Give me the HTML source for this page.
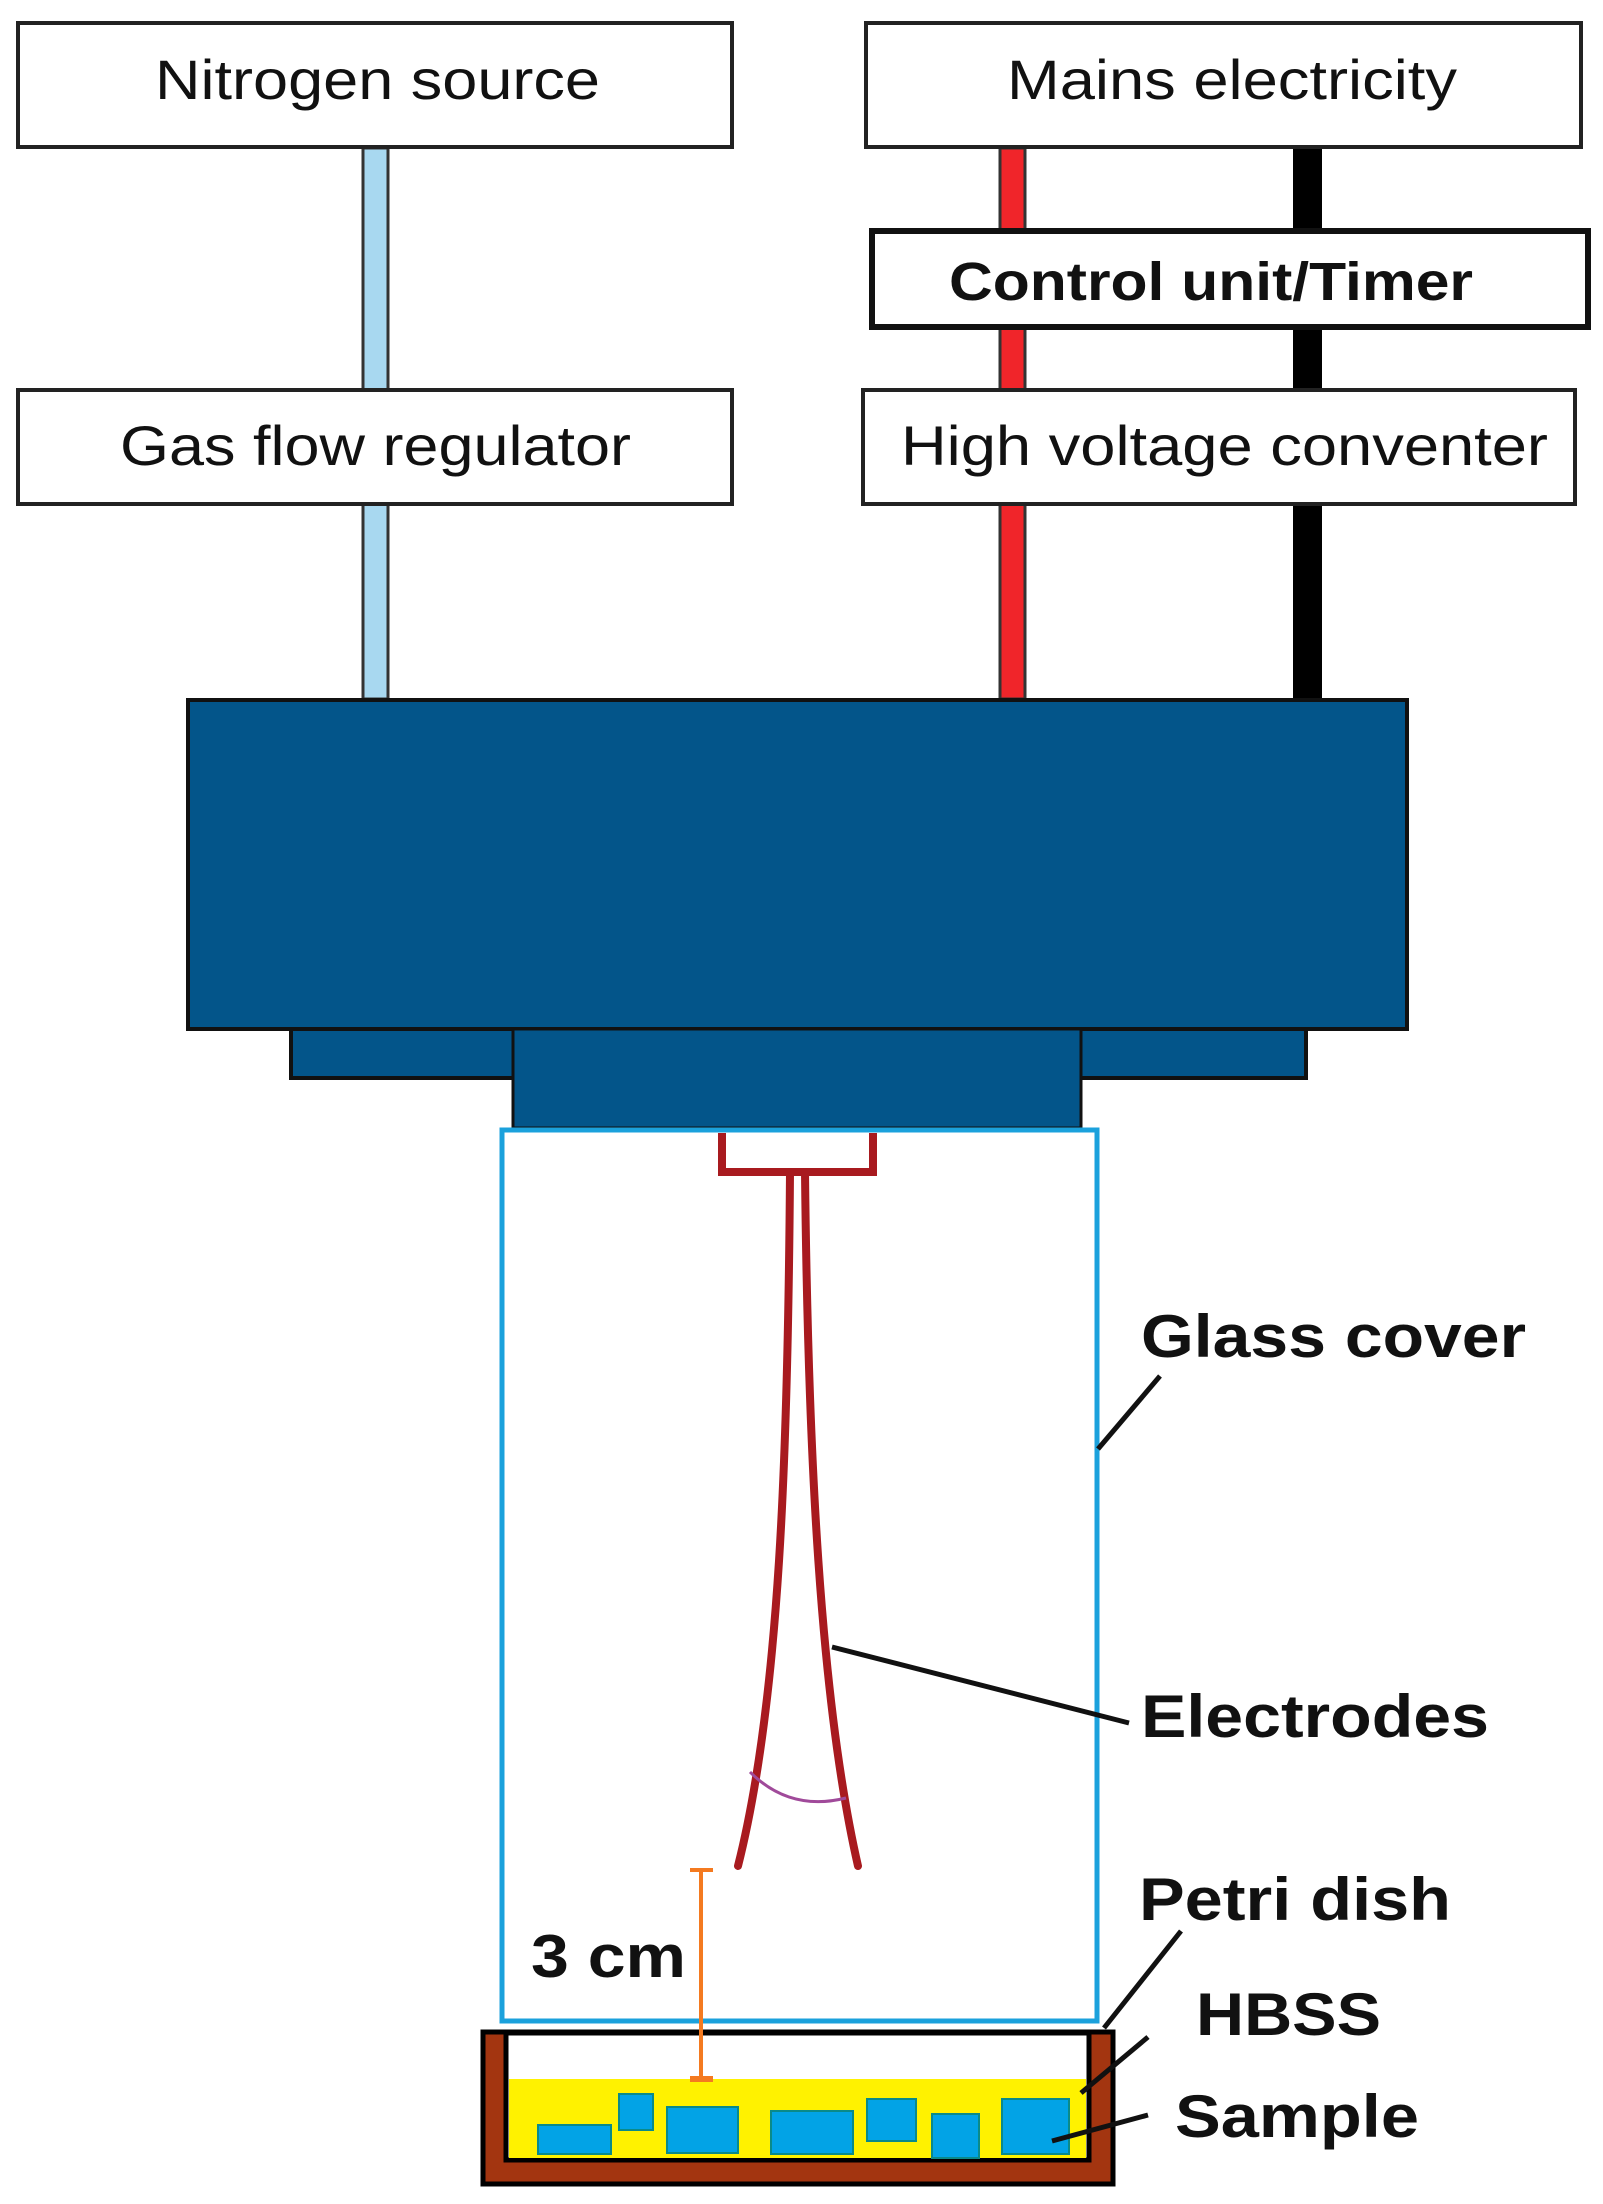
<!DOCTYPE html>
<html><head><meta charset="utf-8"><style>
html,body{margin:0;padding:0;background:#fff;}
svg{display:block;}
text{font-family:"Liberation Sans",Arial,sans-serif;fill:#111;}
</style></head><body>
<svg width="1603" height="2204" viewBox="0 0 1603 2204" xmlns="http://www.w3.org/2000/svg">
<rect x="363" y="148" width="25" height="551" fill="#a8d8f0" stroke="#333" stroke-width="3"/>
<rect x="1000" y="148" width="25" height="551" fill="#f0252a" stroke="#333" stroke-width="3"/>
<rect x="1293" y="148" width="29" height="551" fill="#000"/>
<rect x="18" y="23" width="714" height="124" fill="#fff" stroke="#222" stroke-width="4"/>
<rect x="866" y="23" width="715" height="124" fill="#fff" stroke="#222" stroke-width="4"/>
<rect x="872" y="231" width="716" height="96" fill="#fff" stroke="#111" stroke-width="6"/>
<rect x="18" y="390" width="714" height="114" fill="#fff" stroke="#222" stroke-width="4"/>
<rect x="863" y="390" width="712" height="114" fill="#fff" stroke="#222" stroke-width="4"/>
<text x="155" y="99" font-size="56" textLength="445" lengthAdjust="spacingAndGlyphs">Nitrogen source</text>
<text x="1007" y="99" font-size="56" textLength="450" lengthAdjust="spacingAndGlyphs">Mains electricity</text>
<text x="949" y="300" font-size="54" font-weight="bold" textLength="524" lengthAdjust="spacingAndGlyphs">Control unit/Timer</text>
<text x="120" y="465" font-size="56" textLength="511" lengthAdjust="spacingAndGlyphs">Gas flow regulator</text>
<text x="901" y="465" font-size="56" textLength="647" lengthAdjust="spacingAndGlyphs">High voltage conventer</text>
<rect x="188" y="700" width="1219" height="329" fill="#03558a" stroke="#111" stroke-width="4"/>
<rect x="291" y="1029" width="1015" height="49" fill="#03558a" stroke="#111" stroke-width="4"/>
<rect x="513" y="1029" width="568" height="99" fill="#03558a" stroke="#111" stroke-width="3"/>
<rect x="502" y="1130" width="595" height="891" fill="#fff" stroke="#1ba1dc" stroke-width="5"/>
<path d="M722 1133 V1172 H873 V1133" fill="none" stroke="#a81a1f" stroke-width="8"/>
<path d="M790 1172 C788 1450 780 1700 738 1866" fill="none" stroke="#a81a1f" stroke-width="8" stroke-linecap="round"/>
<path d="M805 1172 C808 1450 820 1700 858 1866" fill="none" stroke="#a81a1f" stroke-width="8" stroke-linecap="round"/>
<path d="M750 1772 Q790 1812 846 1798" fill="none" stroke="#a04a9a" stroke-width="3"/>
<line x1="1160" y1="1376" x2="1098" y2="1449" stroke="#111" stroke-width="5"/>
<line x1="832" y1="1647" x2="1129" y2="1723" stroke="#111" stroke-width="5"/>
<rect x="483" y="2032" width="630" height="152" fill="#a33510" stroke="#000" stroke-width="5"/>
<rect x="506" y="2033" width="583" height="127" fill="#fff" stroke="#000" stroke-width="5"/>
<rect x="509" y="2079" width="577" height="79" fill="#fff200"/>
<g fill="#02a3e6" stroke="#0a8a8a" stroke-width="2">
<rect x="538" y="2125" width="73" height="29"/>
<rect x="619" y="2094" width="34" height="36"/>
<rect x="667" y="2107" width="71" height="46"/>
<rect x="771" y="2111" width="82" height="43"/>
<rect x="867" y="2099" width="49" height="42"/>
<rect x="932" y="2114" width="47" height="44"/>
<rect x="1002" y="2099" width="67" height="55"/>
</g>
<line x1="701" y1="1870" x2="701" y2="2079" stroke="#f47a20" stroke-width="4"/>
<line x1="690" y1="1870" x2="713" y2="1870" stroke="#f47a20" stroke-width="4"/>
<line x1="690" y1="2079" x2="713" y2="2079" stroke="#f47a20" stroke-width="6"/>
<line x1="1181" y1="1931" x2="1104" y2="2028" stroke="#111" stroke-width="5"/>
<line x1="1148" y1="2037" x2="1081" y2="2093" stroke="#111" stroke-width="5"/>
<line x1="1148" y1="2115" x2="1052" y2="2141" stroke="#111" stroke-width="5"/>
<g font-weight="bold" font-size="60">
<text x="1141" y="1357" textLength="385" lengthAdjust="spacingAndGlyphs">Glass cover</text>
<text x="1141" y="1737" textLength="348" lengthAdjust="spacingAndGlyphs">Electrodes</text>
<text x="1139" y="1920" textLength="312" lengthAdjust="spacingAndGlyphs">Petri dish</text>
<text x="1196" y="2035" textLength="185" lengthAdjust="spacingAndGlyphs">HBSS</text>
<text x="1175" y="2137" textLength="244" lengthAdjust="spacingAndGlyphs">Sample</text>
<text x="531" y="1977" textLength="155" lengthAdjust="spacingAndGlyphs">3 cm</text>
</g>
</svg>
</body></html>
